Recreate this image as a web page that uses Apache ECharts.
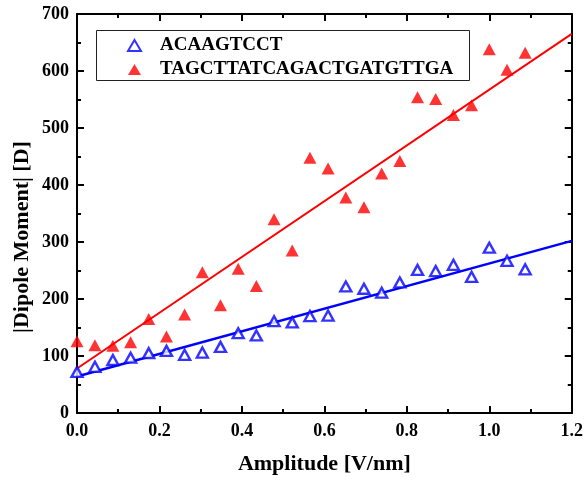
<!DOCTYPE html>
<html>
<head>
<meta charset="utf-8">
<script src="https://cdn.jsdelivr.net/npm/echarts@6/dist/echarts.min.js"></script>
<style>html,body{margin:0;padding:0;background:#fff;}#c{width:586px;height:481px;}</style>
</head>
<body>
<div id="c"></div>
<script>
// Amplitude values [V/nm]
var amplitude = [0, 0.0435, 0.087, 0.13, 0.174, 0.217, 0.261, 0.304, 0.348, 0.391, 0.435, 0.478, 0.522,
  0.565, 0.609, 0.652, 0.696, 0.739, 0.783, 0.826, 0.870, 0.913, 0.957, 1.0, 1.043, 1.087];
// |Dipole moment| [D]
var shortSeq = [72, 81, 93, 97, 105, 109, 102, 106, 116, 140, 136, 161, 159,
  170, 171, 222, 218, 211, 229, 251, 249, 260, 239, 290, 267, 252];
var longSeq = [126, 119, 118, 124, 165, 134, 173, 247, 189, 253, 223, 340, 285,
  448, 429, 378, 361, 420, 442, 554, 551, 523, 540, 638, 602, 632];
// Linear fits (endpoints)
var fitX = [0, 1.2];
var shortFit = [64, 302];
var longFit = [78, 665];
var xTicks = ['0.0', '0.2', '0.4', '0.6', '0.8', '1.0', '1.2'];
var seriesNames = ['ACAAGTCCT', 'TAGCTTATCAGACTGATGTTGA'];

function pairs(xs, ys) { return xs.map(function (x, i) { return [x, ys[i]]; }); }

var font = 'Liberation Serif';
var axisLineStyle = { color: '#000', width: 2 };
var chart = echarts.init(document.getElementById('c'));
chart.setOption({
  animation: false,
  grid: { left: 77, right: 13, top: 14, bottom: 68, containLabel: false },
  graphic: [
    { type: 'rect', shape: { x: 96.5, y: 30.5, width: 373, height: 50 },
      style: { fill: 'none', stroke: '#222', lineWidth: 1 }, z: 10 },
    { type: 'text', x: 22, y: 237, rotation: Math.PI / 2,
      style: { text: '|Dipole Moment| [D]', font: 'bold 22px "Liberation Serif"', fill: '#000',
        textAlign: 'center', textVerticalAlign: 'middle' } }
  ],
  legend: {
    data: seriesNames,
    orient: 'vertical', left: 122, top: 31,
    itemWidth: 13, itemHeight: 11, itemGap: 5,
    textStyle: { fontFamily: font, fontWeight: 'bold', fontSize: 19, color: '#000', lineHeight: 19, padding: [0, 0, 0, 14] }
  },
  xAxis: [{
    type: 'value', min: 0, max: 1.2, interval: 0.2,
    name: 'Amplitude [V/nm]', nameLocation: 'middle', nameGap: 40,
    nameTextStyle: { fontFamily: font, fontWeight: 'bold', fontSize: 22, color: '#000' },
    axisLine: { onZero: false, lineStyle: axisLineStyle },
    axisTick: { inside: true, length: 7, lineStyle: { color: '#000', width: 2 } },
    minorTick: { show: true, splitNumber: 2, length: 4, lineStyle: { color: '#000', width: 2 } },
    splitLine: { show: false },
    axisLabel: { margin: 9, fontFamily: font, fontWeight: 'bold', fontSize: 18, color: '#000',
      formatter: function (v) { var s = v.toFixed(1); return xTicks.indexOf(s) >= 0 ? s : ''; } }
  }, {
    type: 'value', position: 'top', min: 0, max: 1.2, interval: 0.2,
    axisLine: { onZero: false, lineStyle: axisLineStyle },
    axisTick: { inside: true, length: 7, lineStyle: { color: '#000', width: 2 } },
    minorTick: { show: true, splitNumber: 2, length: 4, lineStyle: { color: '#000', width: 2 } },
    splitLine: { show: false }, axisLabel: { show: false }
  }],
  yAxis: [{
    type: 'value', min: 0, max: 700, interval: 100,
    axisLine: { show: true, onZero: false, lineStyle: axisLineStyle },
    axisTick: { show: true, inside: true, length: 7, lineStyle: { color: '#000', width: 2 } },
    minorTick: { show: true, splitNumber: 2, length: 4, lineStyle: { color: '#000', width: 2 } },
    splitLine: { show: false },
    axisLabel: { margin: 8, fontFamily: font, fontWeight: 'bold', fontSize: 18, color: '#000' }
  }, {
    type: 'value', position: 'right', min: 0, max: 700, interval: 100,
    axisLine: { show: true, onZero: false, lineStyle: axisLineStyle },
    axisTick: { show: true, inside: true, length: 7, lineStyle: { color: '#000', width: 2 } },
    minorTick: { show: true, splitNumber: 2, length: 4, lineStyle: { color: '#000', width: 2 } },
    splitLine: { show: false }, axisLabel: { show: false }
  }],
  series: [
    { name: seriesNames[1] + '_fit', type: 'line', data: pairs(fitX, longFit), symbol: 'none',
      lineStyle: { color: '#ff0000', width: 2 }, z: 2 },
    { name: seriesNames[0] + '_fit', type: 'line', data: pairs(fitX, shortFit), symbol: 'none',
      lineStyle: { color: '#0000ff', width: 2.5 }, z: 2 },
    { name: seriesNames[0], type: 'scatter', data: pairs(amplitude, shortSeq),
      symbol: 'triangle', symbolSize: [11, 10],
      itemStyle: { color: '#fff', borderColor: '#0000ff', borderWidth: 2.4 }, z: 3 },
    { name: seriesNames[1], type: 'scatter', data: pairs(amplitude, longSeq),
      symbol: 'triangle', symbolSize: [13, 12],
      itemStyle: { color: '#ff0000' }, z: 3 }
  ]
});
</script>
</body>
</html>
